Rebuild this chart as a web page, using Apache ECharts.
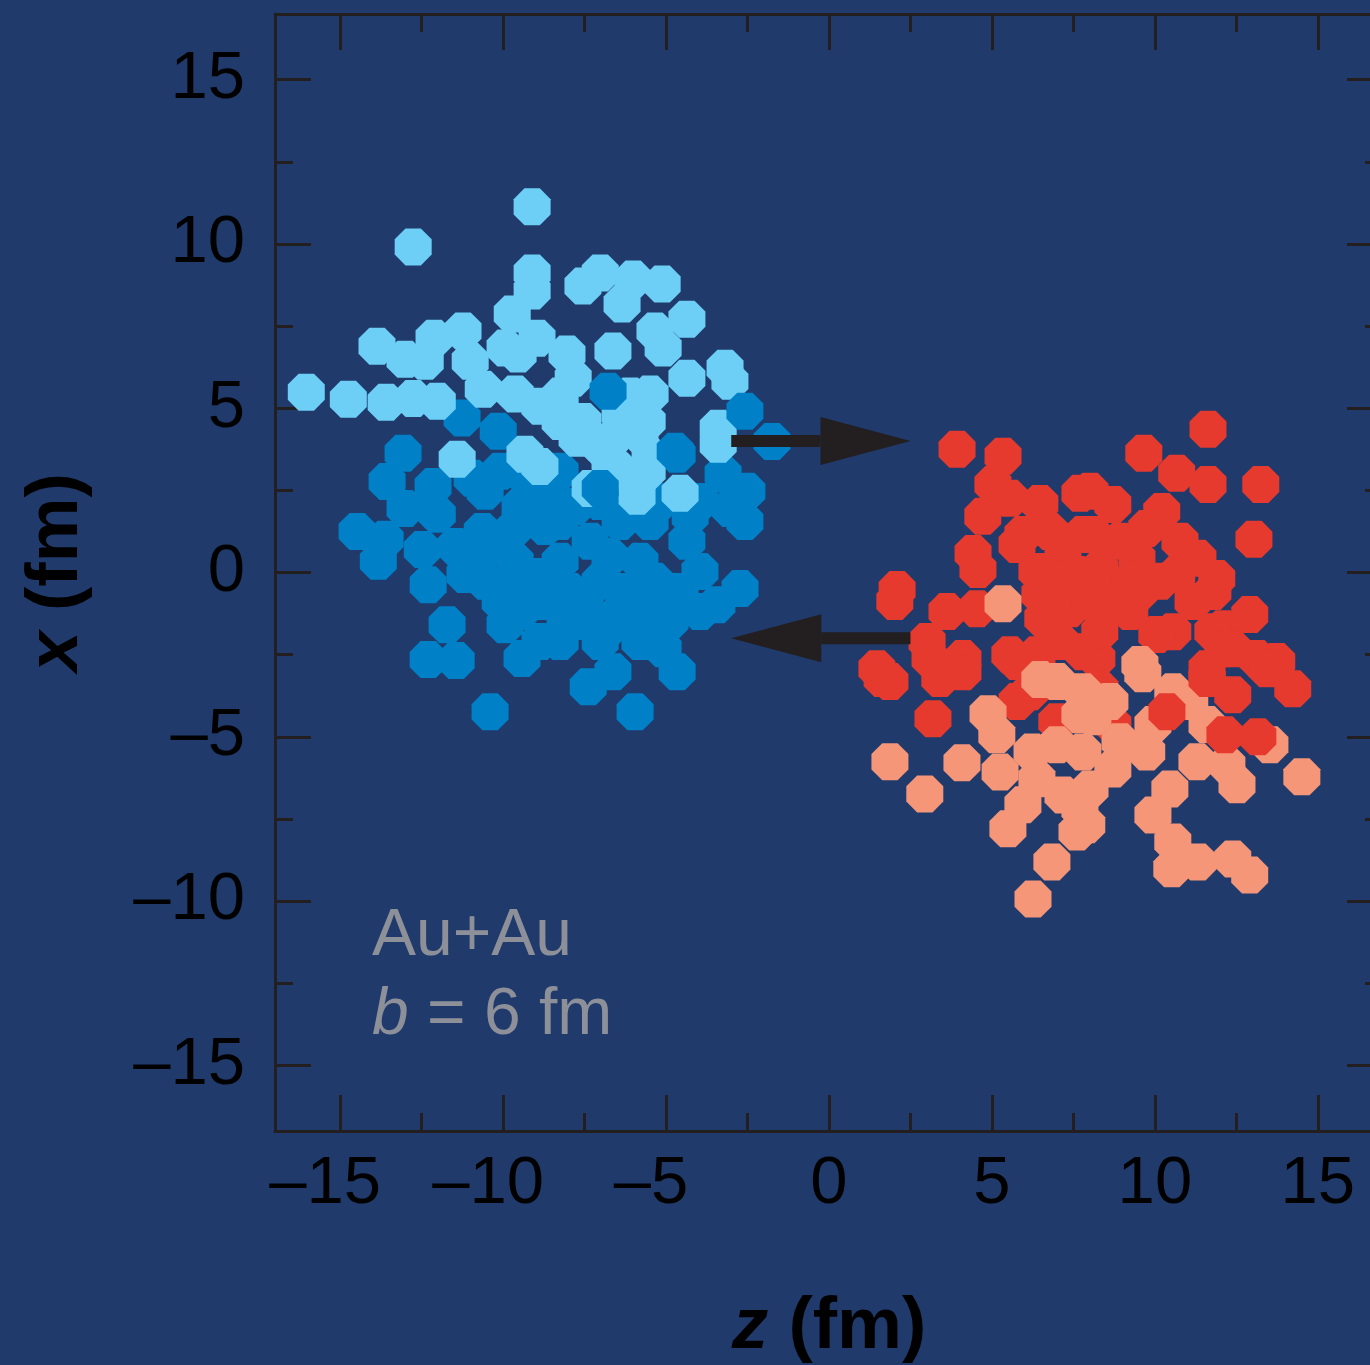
<!DOCTYPE html>
<html>
<head>
<meta charset="utf-8">
<script src="https://cdn.jsdelivr.net/npm/echarts@6/dist/echarts.min.js"></script>
<style>
  html, body { margin: 0; padding: 0; background: #1f3a6b; }
  #main { width: 1370px; height: 1365px; }
</style>
</head>
<body>
<div id="main"></div>
<script>
// nucleon positions (z, x) in fm
const lightBlue = [
  [-16.04,5.49],[-14.75,5.27],[-13.59,5.18],[-12.76,5.30],[-12.02,5.21],
  [-13.87,6.89],[-13.01,6.49],[-12.39,6.43],[-12.12,7.13],[-11.23,7.35],[-11.01,6.43],
  [-9.72,7.87],[-9.94,6.83],[-9.54,6.65],[-10.61,5.58],[-9.63,5.43],
  [-9.11,9.12],[-9.11,8.57],[-9.11,11.13],[-12.76,9.91],
  [-7.02,9.12],[-7.55,8.72],[-6.01,8.93],[-5.12,8.78],[-6.35,8.17],[-4.36,7.71],
  [-5.34,7.35],[-5.09,6.83],[-8.04,6.65],[-6.63,6.74],[-8.96,7.13],
  [-4.36,5.91],[-3.19,6.22],[-3.04,5.82],[-7.85,5.91],[-5.49,5.43],[-5.58,4.60],[-3.40,4.39],
  [-8.87,5.06],[-7.73,4.09],[-6.41,4.82],[-5.80,4.21],[-7.55,4.60],[-7.02,3.84],[-5.49,3.54],
  [-8.25,5.37],[-6.10,5.37],[-8.25,4.60],[-6.72,3.99],[-6.41,3.08],
  [-11.41,3.45],[-9.33,3.60],[-7.33,2.56],[-5.89,2.32],[-4.57,2.41],[-6.72,3.38],
  [-5.58,3.08],[-3.40,3.90],[-8.87,3.23]
];
const darkBlue = [
  [-13.07,3.63],[-13.56,2.77],[-12.15,2.62],[-13.01,1.95],[-12.02,1.77],[-14.48,1.25],
  [-13.62,1.01],[-13.83,0.34],[-12.48,0.70],[-12.30,-0.37],[-10.64,1.25],[-9.69,1.31],
  [-11.17,-0.06],[-10.55,-0.27],[-9.63,0.34],[-9.54,-0.27],[-11.72,-1.59],[-12.30,-2.65],
  [-11.44,-2.68],[-10.40,-4.24],[-9.94,-1.59],[-9.42,-2.62],[-10.55,2.47],[-10.95,2.87],
  [-4.66,3.60],[-3.25,2.99],[-2.52,2.47],[-3.04,1.95],[-2.58,1.55],[-4.36,0.95],
  [-2.73,-0.49],[-3.44,-0.98],[-4.88,-1.49],[-4.66,-3.02],[-7.39,-3.48],[-6.63,-3.02],
  [-5.95,-4.24],[-5.09,-2.32],[-11.26,4.70],[-10.15,4.30],
  [-8.25,1.55],[-7.33,0.95],[-6.41,1.55],[-8.25,0.34],[-7.02,-0.27],[-5.80,0.34],
  [-8.87,-0.88],[-7.64,-1.49],[-6.41,-1.19],[-8.25,-2.10],[-7.02,-2.10],[-5.49,-0.88],
  [-7.02,2.16],[-5.49,1.55],[-8.56,2.16],[-7.94,-0.58],[-9.48,-1.19],[-8.87,-2.10],
  [-10.09,3.08],[-9.17,2.47],[-8.25,3.08],[-6.41,2.77],[-3.96,2.16],[-3.96,0.03],
  [-4.57,-0.58],[-5.80,-2.10],[-9.48,3.08],[-11.47,0.79],[-10.09,-0.88],
  [-8.71,1.40],[-7.79,2.01],[-6.72,0.49],[-5.34,-0.27],[-7.48,-0.88],[-6.26,-0.58],
  [-8.10,-1.34],[-6.72,-1.65],[-5.49,-1.65],[-8.87,-0.12],[-10.09,0.95],[-10.71,0.49],
  [-4.26,1.71],[-3.96,-1.19],[-5.18,2.16],[-9.48,2.01]
];
const darkBlueFront = [[-6.78,5.52],[-2.58,4.91],[-1.75,3.99],[-4.72,3.69],[-7.02,2.56]];
const salmon = [
  [5.34,-0.95],[6.99,-3.32],[4.88,-4.30],[5.15,-4.94],[1.87,-5.76],[2.94,-6.74],[4.08,-5.79],
  [5.25,-6.07],[6.23,-5.46],[6.99,-5.24],[7.79,-5.46],[6.38,-6.28],[7.18,-6.77],[7.70,-7.20],
  [5.95,-7.07],[5.49,-7.80],[6.84,-8.81],[6.26,-9.94],[7.61,-7.90],[7.70,-4.33],[7.79,-3.63],
  [9.63,-3.08],[10.55,-3.63],[13.53,-5.24],[14.51,-6.22],[12.52,-6.46],[11.60,-4.63],
  [12.21,-5.85],[11.29,-5.76],[8.10,-4.39],[9.94,-4.63],[9.75,-5.46],[8.71,-5.98],
  [8.01,-6.59],[7.91,-7.68],[10.46,-6.59],[9.94,-7.38],[10.55,-8.20],[10.52,-9.02],
  [11.32,-8.81],[12.39,-8.72],[12.91,-9.21],[9.54,-2.80],[6.47,-3.26],[8.93,-5.15],
  [8.62,-3.93],[11.07,-3.93]
];
const red = [
  [3.93,3.75],[5.34,3.54],[5.03,2.68],[5.55,2.26],[4.72,1.71],[6.47,2.10],[5.95,1.16],
  [5.77,0.85],[4.42,0.58],[4.57,0.09],[7.70,2.41],[7.18,0.55],[7.79,1.16],[6.38,0.03],
  [6.47,-0.67],[2.09,-0.52],[2.02,-0.88],[3.62,-1.19],[4.54,-1.10],[6.56,-1.40],[7.39,-1.10],
  [7.61,-0.06],[3.01,-2.10],[4.11,-2.62],[1.47,-2.93],[5.55,-2.50],[6.38,-2.50],
  [11.63,4.36],[9.66,3.63],[10.67,3.02],[11.63,2.68],[13.25,2.68],[13.04,1.01],[8.71,2.07],
  [8.01,2.47],[10.21,1.86],[9.75,1.34],[11.32,0.43],[11.90,-0.18],[10.67,-0.06],[8.10,1.16],
  [8.31,0.12],[9.45,0.43],[9.54,-0.58],[9.23,-1.19],[11.17,-0.88],[11.78,-0.58],[12.91,-1.28],
  [12.09,-1.71],[12.39,-2.32],[10.55,-1.80],[10.06,-1.89],[11.78,-1.80],[13.74,-2.71],
  [13.13,-2.62],[11.60,-2.93],
  [1.63,-3.23],[1.87,-3.32],[3.19,-4.45],[3.10,-2.62],[4.11,-3.02],[3.40,-3.23],[5.77,-2.71],
  [5.77,-3.93],[6.99,-4.54],[7.79,-2.41],[11.60,-3.23],[13.44,-2.93],[14.23,-3.54],
  [12.09,-2.32],[8.22,-2.62],[8.31,-3.54],[8.71,-4.63],
  [8.62,-0.88],[7.09,-2.10],[8.31,-1.80],[8.93,0.95],[6.78,1.25],[7.09,-0.27],[8.01,-0.88],
  [10.15,-0.27],[10.77,0.95],[9.23,-0.27],[6.17,-3.63]
];
const redFront = [[10.37,-4.24],[12.39,-3.72],[12.15,-4.94],[13.16,-5.00],[11.60,-3.23]];

// beam arrows: [zFrom, xFrom, zTo, xTo]
const arrows = [[-3, 4, 2.5, 4], [2.5, -2, -3, -2]];

const majorTicks = [-15, -10, -5, 0, 5, 10, 15];
const minorTicks = [-12.5, -7.5, -2.5, 2.5, 7.5, 12.5];

const AXIS = '#231f20';
const FONT = '"Liberation Sans", Arial, Helvetica, sans-serif';
const octagon = 'path://M192.4,138.3L138.3,192.4L61.7,192.4L7.6,138.3L7.6,61.7L61.7,7.6L138.3,7.6L192.4,61.7Z';

const dash = v => String(v).replace('-', '\u2013');
// negative x labels: digits centred under the tick, the dash hangs out to the left
const dashHang = v => v < 0 ? '{n|' + dash(v) + '}' : String(v);

// one axis per tick row (major/minor, both sides)
const makeAxis = (position, ticks, len, opts) => Object.assign({
  type: 'value',
  position: position,
  min: -17,
  max: 17,
  axisLine: { show: false, onZero: false },
  axisTick: { show: true, inside: true, length: len, customValues: ticks,
    lineStyle: { color: AXIS, width: 3 } },
  axisLabel: { show: false },
  splitLine: { show: false }
}, opts || {});

const chartDom = document.getElementById('main');
const myChart = echarts.init(chartDom, null, { renderer: 'canvas' });

const scatter = (name, data, color) => ({
  name: name,
  type: 'scatter',
  data: data,
  symbol: octagon,
  symbolSize: 37,
  itemStyle: { color: color, opacity: 1 },
  emphasis: { disabled: true },
  silent: true
});

const option = {
  backgroundColor: '#1f3a6b',
  animation: false,
  grid: { left: 275, top: 14, width: 1108, height: 1117, outerBoundsMode: 'none', containLabel: false },
  xAxis: [
    makeAxis('bottom', majorTicks, 36, {
      axisLine: { show: true, onZero: false, lineStyle: { color: AXIS, width: 3 } },
      axisLabel: { show: true, customValues: majorTicks, formatter: dashHang, margin: 20,
        color: '#000', fontSize: 67, fontFamily: FONT,
        rich: { n: { color: '#000', fontSize: 67, fontFamily: FONT, padding: [0, 30, 0, 0] } } },
      name: '{i|z} (fm)',
      nameLocation: 'middle',
      nameGap: 160,
      nameTextStyle: { color: '#000', fontSize: 73, fontWeight: 'bold', fontFamily: FONT,
        rich: { i: { fontStyle: 'italic', fontWeight: 'bold', fontSize: 73, fontFamily: FONT, color: '#000' } } }
    }),
    makeAxis('bottom', minorTicks, 18),
    makeAxis('top', majorTicks, 36, {
      axisLine: { show: true, onZero: false, lineStyle: { color: AXIS, width: 3 } }
    }),
    makeAxis('top', minorTicks, 18)
  ],
  yAxis: [
    makeAxis('left', majorTicks, 36, {
      axisLine: { show: true, onZero: false, lineStyle: { color: AXIS, width: 3 } },
      axisLabel: { show: true, customValues: majorTicks, formatter: dash, margin: 30,
        color: '#000', fontSize: 67, fontFamily: FONT },
      name: '{i|x} (fm)',
      nameLocation: 'middle',
      nameRotate: 90,
      nameGap: 182,
      nameTextStyle: { color: '#000', fontSize: 73, fontWeight: 'bold', fontFamily: FONT,
        rich: { i: { fontStyle: 'italic', fontWeight: 'bold', fontSize: 73, fontFamily: FONT, color: '#000' } } }
    }),
    makeAxis('left', minorTicks, 18),
    makeAxis('right', majorTicks, 36, {
      axisLine: { show: true, onZero: false, lineStyle: { color: AXIS, width: 3 } }
    }),
    makeAxis('right', minorTicks, 18)
  ],
  graphic: [
    { type: 'text', x: 372, y: 937, silent: true,
      style: { text: 'Au+Au', fill: '#8d9099', font: '66px ' + FONT, verticalAlign: 'middle' } },
    { type: 'text', x: 372, y: 1016, silent: true,
      style: { text: '{i|b} = 6 fm', fill: '#8d9099', font: '66px ' + FONT, verticalAlign: 'middle',
        rich: { i: { fontStyle: 'italic', fontSize: 66, fontFamily: FONT, fill: '#8d9099' } } } }
  ],
  series: [
    scatter('target spectators', darkBlue, '#0080c6'),
    scatter('target participants', lightBlue, '#6dcff6'),
    scatter('target front', darkBlueFront, '#0080c6'),
    scatter('projectile red', red, '#e53a2d'),
    scatter('projectile salmon', salmon, '#f69679'),
    scatter('projectile front', redFront, '#e53a2d'),
    {
      type: 'custom',
      data: arrows,
      silent: true,
      z: 10,
      renderItem: function (params, api) {
        const p1 = api.coord([api.value(0), api.value(1)]);
        const p2 = api.coord([api.value(2), api.value(3)]);
        const dir = p2[0] > p1[0] ? 1 : -1;
        const headLen = 90, headHalf = 24, shaftHalf = 6;
        const base = p2[0] - dir * headLen;
        return {
          type: 'group',
          children: [
            { type: 'rect',
              shape: { x: Math.min(p1[0], base), y: p1[1] - shaftHalf, width: Math.abs(base - p1[0]), height: shaftHalf * 2 },
              style: { fill: AXIS } },
            { type: 'polygon',
              shape: { points: [[p2[0], p2[1]], [base, p2[1] - headHalf], [base, p2[1] + headHalf]] },
              style: { fill: AXIS } }
          ]
        };
      }
    }
  ]
};

option && myChart.setOption(option);
</script>
</body>
</html>
